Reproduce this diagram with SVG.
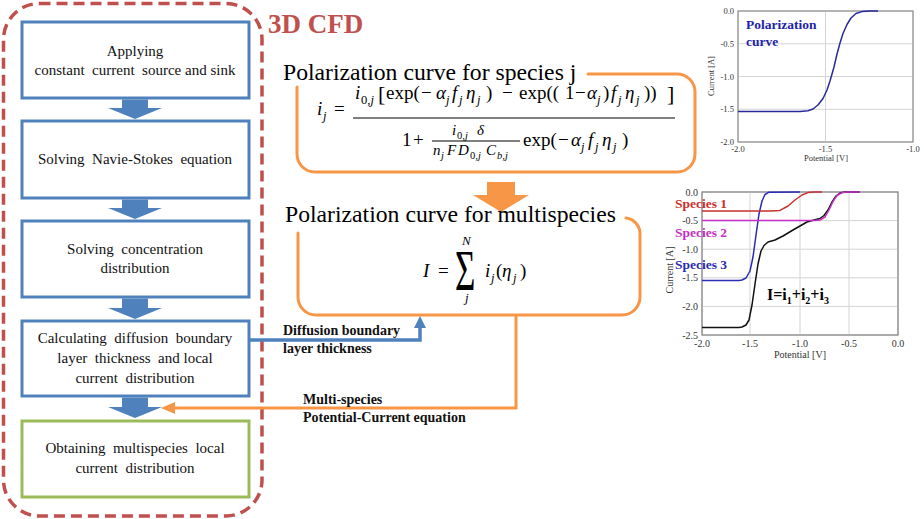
<svg xmlns="http://www.w3.org/2000/svg" width="924" height="519" viewBox="0 0 924 519">
<style>
.bx{fill:#fff;stroke:#4F81BD;stroke-width:3}
.bt{font-family:"Liberation Serif",serif;font-size:15px;fill:#111;text-anchor:middle}
.ba{fill:#4F81BD}
.ttl{font-family:"Liberation Serif",serif;font-size:23.7px;fill:#000}
.ob{fill:none;stroke:#F79646;stroke-width:3;stroke-linecap:round}
.mt{font-family:"Liberation Serif",serif;font-size:19px;fill:#000}
.it{font-style:italic}
.sb{font-size:12.5px}
.si{font-size:15px}
.ss{font-size:10.5px}
.lb{font-family:"Liberation Serif",serif;font-size:14px;font-weight:bold;fill:#111}
.tk{font-family:"Liberation Serif",serif;font-size:8.5px;fill:#333}
.tk2{font-family:"Liberation Serif",serif;font-size:10px;fill:#333}
.grid{stroke:#d4d4d4;stroke-width:1;fill:none}
.frame{fill:#fff;stroke:#9a9a9a;stroke-width:1}
.crv{fill:none;stroke-width:1.5;stroke-linejoin:round}
.sp{font-family:"Liberation Serif",serif;font-size:13.5px;font-weight:bold}
</style>

<g id="cfd-region">
<rect x="3.5" y="3.5" width="258.5" height="512.5" rx="36" ry="36" fill="none" stroke="#C0504D" stroke-width="3.5" stroke-dasharray="11 6"/>
<text x="268" y="33" style="font-family:'Liberation Serif',serif;font-size:27px;font-weight:bold;fill:#C0504D">3D CFD</text>
</g>

<g id="box1">
<rect class="bx" x="22" y="22" width="227" height="76"/>
<text class="bt" x="135" y="56">Applying</text>
<text class="bt" x="135" y="75">constant&#160; current&#160; source and sink</text>
</g>
<g id="box2">
<rect class="bx" x="22" y="121" width="227" height="77"/>
<text class="bt" x="135" y="164">Solving&#160; Navie-Stokes&#160; equation</text>
</g>
<g id="box3">
<rect class="bx" x="22" y="221" width="227" height="76"/>
<text class="bt" x="135" y="254">Solving&#160; concentration</text>
<text class="bt" x="135" y="273">distribution</text>
</g>
<g id="box4">
<rect class="bx" x="22" y="321" width="227" height="75"/>
<text class="bt" x="135" y="343">Calculating&#160; diffusion&#160; boundary</text>
<text class="bt" x="135" y="363">layer&#160; thickness&#160; and local</text>
<text class="bt" x="135" y="383">current&#160; distribution</text>
</g>
<g id="box5">
<rect x="22" y="421" width="227" height="76" fill="#fff" stroke="#9BBB59" stroke-width="3"/>
<text class="bt" x="135" y="453">Obtaining&#160; multispecies&#160; local</text>
<text class="bt" x="135" y="473">current&#160; distribution</text>
</g>

<g id="flow-arrows">
<path class="ba" d="M122 99.5H148V108H162L135 119L108 108H122Z"/>
<path class="ba" d="M122 199.5H148V208H162L135 219L108 208H122Z"/>
<path class="ba" d="M122 298.5H148V308H162L135 319L108 308H122Z"/>
<path class="ba" d="M122 397.5H148V407H162L135 418L108 407H122Z"/>
</g>

<g id="species-j">
<path class="ob" d="M297 87V154A18 18 0 0 0 315 172H677A18 18 0 0 0 695 154V92A18 18 0 0 0 677 74H588"/>
<text class="ttl" x="283" y="80">Polarization curve for species j</text>
<text class="mt">
<tspan class="it" x="317" y="115">i</tspan><tspan class="sb it" x="323" y="119.5">j</tspan>
<tspan x="334" y="115">=</tspan>
<tspan class="it" x="355" y="99">i</tspan><tspan class="sb" x="361" y="103.5">0,</tspan><tspan class="sb it">j</tspan>
<tspan x="378" y="101" style="font-size:22px">[</tspan>
<tspan x="386" y="99">exp(</tspan>
<tspan x="421" y="99">−</tspan>
<tspan class="it" x="436" y="99">α</tspan><tspan class="sb it" x="446" y="103.5">j</tspan>
<tspan class="it" x="452" y="99">f</tspan><tspan class="sb it" x="459" y="103.5">j</tspan>
<tspan class="it" x="466" y="99">η</tspan><tspan class="sb it" x="477" y="103.5">j</tspan>
<tspan x="486" y="99">)</tspan>
<tspan x="502" y="99">−</tspan>
<tspan x="519" y="99">exp((</tspan>
<tspan x="565" y="99">1</tspan>
<tspan x="575" y="99">−</tspan>
<tspan class="it" x="587" y="99">α</tspan><tspan class="sb it" x="597" y="103.5">j</tspan>
<tspan x="603" y="99">)</tspan>
<tspan class="it" x="611" y="99">f</tspan><tspan class="sb it" x="618" y="103.5">j</tspan>
<tspan class="it" x="625" y="99">η</tspan><tspan class="sb it" x="636" y="103.5">j</tspan>
<tspan x="644" y="99">))</tspan>
<tspan x="667" y="101" style="font-size:22px">]</tspan>
<tspan x="402" y="146">1</tspan>
<tspan x="413" y="146">+</tspan>
<tspan class="si it" x="452" y="135">i</tspan><tspan class="ss" x="457" y="138.5">0,</tspan><tspan class="ss it">j</tspan><tspan class="si it" x="477" y="135">δ</tspan>
<tspan class="si it" x="433" y="155">n</tspan><tspan class="ss it" x="441" y="158.5">j</tspan>
<tspan class="si it" x="447" y="155">F</tspan><tspan class="si it" x="458" y="155">D</tspan><tspan class="ss" x="470" y="158.5">0,</tspan><tspan class="ss it">j</tspan>
<tspan class="si it" x="486" y="155">C</tspan><tspan class="ss it" x="497" y="158.5">b</tspan><tspan class="ss">,</tspan><tspan class="ss it">j</tspan>
<tspan x="523" y="146">exp(</tspan>
<tspan x="558" y="146">−</tspan>
<tspan class="it" x="571" y="146">α</tspan><tspan class="sb it" x="581" y="150.5">j</tspan>
<tspan class="it" x="588" y="146">f</tspan><tspan class="sb it" x="595" y="150.5">j</tspan>
<tspan class="it" x="602" y="146">η</tspan><tspan class="sb it" x="613" y="150.5">j</tspan>
<tspan x="622" y="146">)</tspan>
</text>
<path d="M353 118H675M432 141H520" stroke="#000" stroke-width="1.2"/>
</g>

<g id="down-arrow">
<path d="M487 182H515V195H529L501 212L473 195H487Z" fill="#F79646"/>
</g>

<g id="multispecies">
<path class="ob" d="M298 233V297A18 18 0 0 0 316 315H622A18 18 0 0 0 640 297V234A16 16 0 0 0 626 218"/>
<text class="ttl" x="285" y="222">Polarization curve for multispecies</text>
<text class="mt">
<tspan class="it" x="423" y="277">I</tspan>
<tspan x="438" y="277">=</tspan>
<tspan class="it" x="485" y="277">i</tspan><tspan class="sb it" x="491" y="281.5">j</tspan>
<tspan x="496" y="277">(</tspan>
<tspan class="it" x="502" y="277">η</tspan><tspan class="sb it" x="513" y="281.5">j</tspan>
<tspan x="520" y="277">)</tspan>
</text>
<text class="mt it" x="462" y="245" style="font-size:13px">N</text>
<text class="mt it" x="465" y="302" style="font-size:13px">j</text>
<text transform="translate(455,290) scale(1,1.6)" style="font-family:'Liberation Serif',serif;font-size:35px">Σ</text>
</g>

<g id="connectors">
<path d="M249 340H420V327" fill="none" stroke="#4F81BD" stroke-width="3.5"/>
<path d="M414 328H426L420 316Z" fill="#4F81BD"/>
<path d="M516 315V408H174" fill="none" stroke="#F79646" stroke-width="3"/>
<path d="M175 402V414L161 408Z" fill="#F79646"/>
<text class="lb" x="283" y="335">Diffusion boundary</text>
<text class="lb" x="283" y="353">layer thickness</text>
<text class="lb" x="303" y="404">Multi-species</text>
<text class="lb" x="303" y="422">Potential-Current equation</text>
</g>

<g id="plot-single">
<rect class="frame" x="738" y="11" width="175" height="131"/>
<path class="grid" d="M738 43.75H913M738 76.5H913M738 109.25H913M825.5 11V142"/>
<rect x="738" y="11" width="175" height="131" fill="none" stroke="#9a9a9a"/>
<g class="tk" text-anchor="end">
<text x="734" y="14">0.0</text>
<text x="734" y="46.5">-0.5</text>
<text x="734" y="79.5">-1.0</text>
<text x="734" y="112">-1.5</text>
<text x="734" y="145">-2.0</text>
</g>
<g class="tk" text-anchor="middle">
<text x="738" y="152">-2.0</text>
<text x="825.5" y="152">-1.5</text>
<text x="913" y="152">-1.0</text>
<text x="826" y="161">Potential [V]</text>
<text transform="translate(714,76) rotate(-90)">Current [A]</text>
</g>
<path class="crv" stroke="#2a2a9c" d="M738 111.5L800 111.5L808 110.8L813 109L818 105L823 98.5L827 90L830 81L834 67L837 54L840 43L843 33.5L847 24.5L851 18L856 13.5L862 11.6L870 11.1L878 11"/>
<text x="746" y="29" style="font-family:'Liberation Serif',serif;font-size:13.5px;font-weight:bold;fill:#2222aa">Polarization</text>
<text x="746" y="46" style="font-family:'Liberation Serif',serif;font-size:13.5px;font-weight:bold;fill:#2222aa">curve</text>
</g>

<g id="plot-multi">
<rect class="frame" x="702" y="192" width="196" height="143"/>
<path class="grid" d="M702 220.6H898M702 249.2H898M702 277.8H898M702 306.4H898M750 192V335M800 192V335M849 192V335"/>
<rect x="702" y="192" width="196" height="143" fill="none" stroke="#8a8a8a"/>
<g class="tk2" text-anchor="end">
<text x="698" y="195.5">0.0</text>
<text x="698" y="224">-0.5</text>
<text x="698" y="252.5">-1.0</text>
<text x="698" y="281">-1.5</text>
<text x="698" y="310">-2.0</text>
<text x="698" y="338.5">-2.5</text>
</g>
<g class="tk2" text-anchor="middle">
<text x="702" y="347">-2.0</text>
<text x="750" y="347">-1.5</text>
<text x="800" y="347">-1.0</text>
<text x="849" y="347">-0.5</text>
<text x="898" y="347">0.0</text>
<text x="800" y="358">Potential [V]</text>
<text transform="translate(673,270) rotate(-90)">Current [A]</text>
</g>
<path class="crv" stroke="#111" d="M702 327.6L739 327.6L742 327L746 325L749 320L752 305L755 284L758 264L761 251L764 245.5L768 242L775 240L783 236L793 230L800 226L807 222L814 220L820 218.5L824 215.5L828 210L832 202L836 196L840 193L845 192L860 192"/>
<path class="crv" stroke="#2b2bb5" d="M702 280.5L739 280.5L742 280L746 278L750 271L753 257L756 235L759 214L762 201L765 194.5L769 192.2L800 192"/>
<path class="crv" stroke="#c62ec6" d="M702 220.6L815 220.6L820 220L825 217L829 210L833 201.5L837 195.5L842 192.6L847 192L860 192"/>
<path class="crv" stroke="#c8302c" d="M702 210.9L770 210.9L780 210.4L788 206L795 200L802 195L808 192.6L814 192L822 192"/>
<text class="sp" x="675" y="208" fill="#c8302c">Species 1</text>
<text class="sp" x="675" y="237" fill="#c62ec6">Species 2</text>
<text class="sp" x="675" y="269" fill="#2b2bb5">Species 3</text>
<text x="767" y="300" style="font-family:'Liberation Serif',serif;font-size:16px;font-weight:bold;fill:#000">I=i<tspan dy="4" style="font-size:10px">1</tspan><tspan dy="-4">+i</tspan><tspan dy="4" style="font-size:10px">2</tspan><tspan dy="-4">+i</tspan><tspan dy="4" style="font-size:10px">3</tspan></text>
</g>
</svg>
